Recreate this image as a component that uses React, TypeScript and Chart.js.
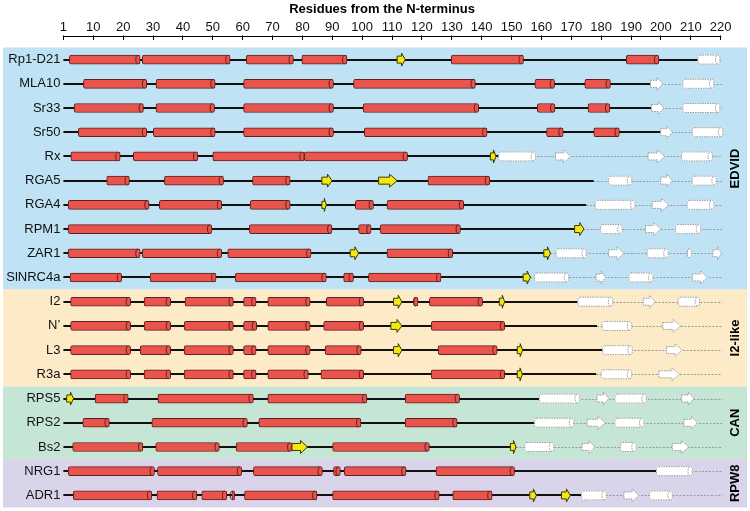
import React, { useEffect, useRef } from 'react';
import { Chart, registerables } from 'chart.js';
Chart.register(...registerables);

const proteins = ['Rp1-D21', 'MLA10', 'Sr33', 'Sr50', 'Rx', 'RGA5', 'RGA4', 'RPM1', 'ZAR1', 'SlNRC4a', 'I2', 'N\u2019', 'L3', 'R3a', 'RPS5', 'RPS2', 'Bs2', 'NRG1', 'ADR1'];

const xTickValues = [0, 10, 20, 30, 40, 50, 60, 70, 80, 90, 100, 110, 120, 130, 140, 150, 160, 170, 180, 190, 200, 210, 220];
const xTickLabels = ['1', '10', '20', '30', '40', '50', '60', '70', '80', '90', '100', '110', '120', '130', '140', '150', '160', '170', '180', '190', '200', '210', '220'];
const axisTitle = 'Residues from the N-terminus';

const groupNames = ['EDVID', 'I2-like', 'CAN', 'RPW8'];
const groupFirstRow = [0, 10, 14, 17];
const groupLastRow = [9, 13, 16, 18];

// alpha helices (solved structure)
const helices: number[][][] = [
  [[2, 25.7], [26.4, 55.8], [61.2, 77], [79.8, 94.9], [129.8, 154], [188.4, 199.3]],
  [[6.7, 27.9], [31, 50.8], [60.3, 90.4], [97.1, 137.9], [157.8, 164.4], [174.5, 183.1]],
  [[3.6, 26.8], [31, 50.6], [60.3, 90.4], [100.3, 139], [158.6, 164.5], [175.6, 182.9]],
  [[5, 27.9], [30.1, 50.8], [60.3, 90.4], [100.7, 141.8], [161.7, 167.3], [177.5, 186.1]],
  [[2.5, 19], [23.4, 45], [50, 80.6], [80.6, 115.2]],
  [[14.5, 22.1], [33.8, 53.6], [63.3, 75.9], [122, 142.7]],
  [[1.6, 28.7], [32.1, 53], [62.5, 75.9], [97.7, 103.8], [108.3, 134]],
  [[1.6, 49.7], [62.2, 89.9], [98.8, 103], [106, 132.9]],
  [[1.6, 25.7], [26.4, 53], [55, 82.9], [108.3, 130.3]],
  [[2.2, 19.5], [29, 51.1], [57.5, 88], [93.8, 97.1], [102.1, 126.4]],
  [[2.4, 22.5], [27, 35.9], [40.7, 56.9], [60.3, 64.5], [68.4, 82.6], [88, 100.5], [117.2, 118.7], [122.5, 140.3]],
  [[2.4, 22.5], [27, 35.9], [40.4, 56.9], [60.3, 64.7], [68.4, 82.6], [87.1, 100.5], [123.1, 147.7]],
  [[2.4, 22.5], [25.7, 35.9], [40.4, 56.9], [60.3, 64.5], [68.4, 82.6], [87.6, 99.7], [125.4, 145.2]],
  [[2.4, 22.5], [27, 35.9], [40.4, 56.9], [60.3, 64.5], [68.4, 82], [86.2, 100.5], [123.1, 147.7]],
  [[10.6, 21.7], [31.6, 63.6], [68.4, 101.6], [114.4, 132.6]],
  [[6.5, 15.4], [29.6, 61.6], [65.4, 99.6], [114.4, 131.8]],
  [[3.1, 26.6], [30.9, 52.2], [57.8, 76.5], [90.1, 122.5]],
  [[1.6, 30.5], [31.5, 59.7], [63.6, 86.7], [90.4, 92.7], [94, 114.7], [124.7, 151]],
  [[3.3, 29.6], [31.3, 44.7], [46.3, 54.7], [56.4, 57.3], [60.6, 84.9], [90.1, 125.8], [130.3, 143.5]],
];

// beta strands (solved structure)
const strands: number[][][] = [
  [[111.7, 114.4]],
  [],
  [],
  [],
  [[142.9, 144.8]],
  [[86.5, 89.9], [105.5, 111.7]],
  [[86.5, 88]],
  [[171.1, 174.2]],
  [[96, 98.8], [160.8, 163]],
  [[153.9, 156.3]],
  [[110.5, 113.3], [145.9, 147.7]],
  [[109.6, 113.3]],
  [[110.5, 113.3], [151.9, 153.7]],
  [[151.9, 153.6]],
  [[1.1, 3.4]],
  [],
  [[76.5, 81.7], [149.6, 151.5]],
  [],
  [[156.1, 158.3], [166.7, 169.7]],
];

const structuredEnd = [212.4, 196.5, 196.8, 199.9, 145.7, 177.5, 175, 174.2, 163, 156.3, 172.2, 178.6, 180.5, 178.3, 159.3, 157.7, 151.5, 198.5, 173.4];
const tailEnd = [220.5, 220.5, 220.5, 220.5, 220, 220.5, 220.5, 220.5, 220.2, 220.5, 220.5, 220.5, 220.5, 220.5, 220.5, 220.9, 220.5, 220.5, 220.5];

// predicted (modelled) elements
const predictedHelices: number[][][] = [
  [[212.4, 219.7]],
  [[207.3, 217.7]],
  [[207.3, 219.7]],
  [[210.5, 220.7]],
  [[145.7, 158], [206.9, 217.2]],
  [[182.5, 190.2], [210.5, 218.5]],
  [[178, 191.3], [208.8, 217.7]],
  [[179.8, 187], [204.9, 213.3]],
  [[164.9, 175], [195.4, 202.4], [208.8, 210.2]],
  [[157.7, 169.1], [189.3, 197.3]],
  [[172.2, 183.9], [205.8, 212.9]],
  [[180.3, 190.2]],
  [[180.5, 190.4]],
  [[180, 190.2]],
  [[159.3, 172.7], [184.6, 195.1]],
  [[157.7, 170.8], [184.6, 194.3]],
  [[154.4, 164.1], [186.5, 191.7]],
  [[198.5, 210.5]],
  [[173.4, 181.7], [196.2, 203.8]],
];

const predictedStrands: number[][][] = [
  [],
  [[196.5, 200.6]],
  [[196.8, 201]],
  [[199.9, 203.8]],
  [[164.7, 169.7], [195.7, 201.3]],
  [[199.9, 203.8]],
  [[197.1, 202.6]],
  [[194.8, 199.9]],
  [[182.5, 187.6], [217.4, 220.2]],
  [[178.3, 181.4], [210.5, 215.5]],
  [[194.1, 198]],
  [[200.6, 206.6]],
  [[201.8, 207.1]],
  [[199.3, 206.2]],
  [[178.6, 182.5], [206.9, 211]],
  [[175.3, 181.4], [207.7, 212.2]],
  [[173.6, 177.9], [203.8, 209.3]],
  [],
  [[187.6, 192.6]],
];

// ---- styles ----
const FONT = '"Liberation Sans", Arial, Helvetica, sans-serif';
const groupColors = ['#BFE2F5', '#FDEBC8', '#C6E6D5', '#D9D4EA'];
const helixFill = '#E9544D';
const helixStroke = '#5E201D';
const strandFill = '#F4E812';
const strandStroke = '#3d3800';
const predStroke = '#9a9a9a';

function arrowPath(ctx: CanvasRenderingContext2D, x1: number, x2: number, cy: number) {
  const w = x2 - x1;
  const hl = Math.min(Math.max(w * 0.45, 2), 7.5);
  const bh = 3.5;
  const hh = 6.5;
  const xb = x2 - hl;
  ctx.beginPath();
  ctx.moveTo(x1, cy - bh);
  ctx.lineTo(xb, cy - bh);
  ctx.lineTo(xb, cy - hh);
  ctx.lineTo(x2, cy);
  ctx.lineTo(xb, cy + hh);
  ctx.lineTo(xb, cy + bh);
  ctx.lineTo(x1, cy + bh);
  ctx.closePath();
}

function roundRectPath(ctx: CanvasRenderingContext2D, x: number, y: number, w: number, h: number, r: number) {
  const rr = Math.min(r, w / 2, h / 2);
  ctx.beginPath();
  ctx.moveTo(x + rr, y);
  ctx.lineTo(x + w - rr, y);
  ctx.arcTo(x + w, y, x + w, y + rr, rr);
  ctx.lineTo(x + w, y + h - rr);
  ctx.arcTo(x + w, y + h, x + w - rr, y + h, rr);
  ctx.lineTo(x + rr, y + h);
  ctx.arcTo(x, y + h, x, y + h - rr, rr);
  ctx.lineTo(x, y + rr);
  ctx.arcTo(x, y, x + rr, y, rr);
  ctx.closePath();
}

const diagramPlugin = {
  id: 'diagram',
  beforeDraw(chart: any) {
    const { ctx } = chart;
    const ys = chart.scales.y;
    ctx.save();
    groupNames.forEach((_, g) => {
      const top = ys.getPixelForValue(groupFirstRow[g] - 0.5);
      const bot = ys.getPixelForValue(groupLastRow[g] + 0.5);
      ctx.fillStyle = groupColors[g];
      ctx.fillRect(3, top, 744, bot - top);
    });
    ctx.restore();
  },
  beforeDatasetsDraw(chart: any) {
    const { ctx } = chart;
    const xs = chart.scales.x;
    const ys = chart.scales.y;
    ctx.save();
    proteins.forEach((_, i) => {
      const y = Math.round(ys.getPixelForValue(i));
      const x0 = xs.getPixelForValue(0);
      const x1 = xs.getPixelForValue(structuredEnd[i]);
      const x2 = xs.getPixelForValue(tailEnd[i]);
      ctx.setLineDash([2, 1.5]);
      ctx.strokeStyle = predStroke;
      ctx.lineWidth = 1;
      ctx.beginPath();
      ctx.moveTo(x1, y + 0.5);
      ctx.lineTo(x2, y + 0.5);
      ctx.stroke();
      ctx.setLineDash([]);
      ctx.strokeStyle = '#111';
      ctx.lineWidth = 2;
      ctx.beginPath();
      ctx.moveTo(x0, y);
      ctx.lineTo(x1, y);
      ctx.stroke();
    });
    ctx.restore();
  },
  afterDatasetsDraw(chart: any) {
    const { ctx } = chart;
    const xs = chart.scales.x;
    const ys = chart.scales.y;
    ctx.save();
    chart.getDatasetMeta(0).data.forEach((el: any) => {
      const p = el.getProps(['x', 'base', 'y', 'height'], true);
      const right = Math.max(p.x, p.base);
      ctx.strokeStyle = helixStroke;
      ctx.lineWidth = 1;
      ctx.beginPath();
      ctx.ellipse(right - 2.2, p.y, 2.2, p.height / 2 - 0.3, 0, Math.PI / 2, Math.PI * 1.5);
      ctx.stroke();
    });
    chart.getDatasetMeta(1).data.forEach((el: any) => {
      const p = el.getProps(['x', 'base', 'y', 'height'], true);
      const left = Math.min(p.x, p.base);
      const right = Math.max(p.x, p.base);
      ctx.strokeStyle = predStroke;
      ctx.lineWidth = 1;
      ctx.setLineDash([1.5, 1]);
      roundRectPath(ctx, left, p.y - p.height / 2, right - left, p.height, 2);
      ctx.stroke();
      ctx.beginPath();
      ctx.ellipse(right - 2.2, p.y, 2.2, p.height / 2 - 0.3, 0, Math.PI / 2, Math.PI * 1.5);
      ctx.stroke();
      ctx.setLineDash([]);
    });
    proteins.forEach((_, i) => {
      const y = ys.getPixelForValue(i);
      strands[i].forEach(([s, e]) => {
        arrowPath(ctx, xs.getPixelForValue(s), xs.getPixelForValue(e), y);
        ctx.fillStyle = strandFill;
        ctx.fill();
        ctx.strokeStyle = strandStroke;
        ctx.lineWidth = 1;
        ctx.setLineDash([]);
        ctx.stroke();
      });
      predictedStrands[i].forEach(([s, e]) => {
        arrowPath(ctx, xs.getPixelForValue(s), xs.getPixelForValue(e), y);
        ctx.fillStyle = '#ffffff';
        ctx.fill();
        ctx.strokeStyle = predStroke;
        ctx.lineWidth = 1;
        ctx.setLineDash([1.5, 1]);
        ctx.stroke();
        ctx.setLineDash([]);
      });
    });
    ctx.restore();
  },
  afterDraw(chart: any) {
    const { ctx, chartArea } = chart;
    const xs = chart.scales.x;
    const ys = chart.scales.y;
    ctx.save();
    const ay = Math.round(chartArea.top - 4) + 0.5;
    ctx.strokeStyle = '#000';
    ctx.lineWidth = 1;
    ctx.beginPath();
    ctx.moveTo(xs.getPixelForValue(0) - 0.5, ay);
    ctx.lineTo(xs.getPixelForValue(220) + 0.5, ay);
    ctx.stroke();
    ctx.fillStyle = '#000';
    ctx.font = `bold 13px ${FONT}`;
    ctx.textAlign = 'center';
    ctx.textBaseline = 'middle';
    ctx.fillText(axisTitle, (chartArea.left + chartArea.right) / 2 - 10, 9);
    groupNames.forEach((name, g) => {
      const top = ys.getPixelForValue(groupFirstRow[g] - 0.5);
      const bot = ys.getPixelForValue(groupLastRow[g] + 0.5);
      ctx.save();
      ctx.translate(735, (top + bot) / 2);
      ctx.rotate(-Math.PI / 2);
      ctx.fillText(name, 0, 0);
      ctx.restore();
    });
    ctx.restore();
  },
};

export default function App() {
  const ref = useRef<HTMLCanvasElement | null>(null);
  useEffect(() => {
    if (!ref.current) return;
    const helixData = proteins.flatMap((_, i) => helices[i].map((h) => ({ x: h, y: i })));
    const predData = proteins.flatMap((_, i) => predictedHelices[i].map((h) => ({ x: h, y: i })));
    const chart = new Chart(ref.current, {
      type: 'bar',
      data: {
        datasets: [
          {
            label: 'Helix',
            data: helixData as any,
            backgroundColor: helixFill,
            borderColor: helixStroke,
            borderWidth: 1,
            borderRadius: 2,
            borderSkipped: false,
            barThickness: 9,
            grouped: false,
            clip: false as any,
          },
          {
            label: 'Predicted helix',
            data: predData as any,
            backgroundColor: '#ffffff',
            borderWidth: 0,
            borderRadius: 2,
            borderSkipped: false,
            barThickness: 9,
            grouped: false,
            clip: false as any,
          },
        ],
      },
      options: {
        indexAxis: 'y',
        responsive: false,
        animation: false,
        devicePixelRatio: 1,
        events: [],
        layout: { padding: { left: 0, top: 0, right: 29.3, bottom: 3.5 } },
        plugins: { legend: { display: false }, tooltip: { enabled: false }, title: { display: false } },
        scales: {
          x: {
            type: 'linear',
            position: 'top',
            min: 0,
            max: 220,
            offset: false,
            afterBuildTicks: (s: any) => {
              s.ticks = xTickValues.map((v) => ({ value: v }));
            },
            afterFit: (s: any) => {
              s.height = 39.5;
            },
            ticks: {
              autoSkip: false,
              maxRotation: 0,
              padding: 0,
              color: '#111',
              font: { family: FONT, size: 13 },
              callback: (_v: any, i: number) => xTickLabels[i],
            },
            grid: { drawOnChartArea: false, drawTicks: true, tickLength: 4, color: '#000', lineWidth: 1 },
            border: { display: false },
          },
          y: {
            type: 'linear',
            reverse: true,
            min: -0.83,
            max: 18.5,
            offset: false,
            afterBuildTicks: (s: any) => {
              s.ticks = proteins.map((_, i) => ({ value: i }));
            },
            afterFit: (s: any) => {
              s.width = 63.4;
              s.paddingTop = 0;
              s.paddingBottom = 0;
            },
            ticks: {
              autoSkip: false,
              padding: 3,
              color: '#111',
              font: { family: FONT, size: 13 },
              callback: (v: any) => proteins[v as number] ?? '',
            },
            grid: { display: false, drawTicks: false },
            border: { display: false },
          },
        },
      } as any,
      plugins: [diagramPlugin],
    });
    return () => chart.destroy();
  }, []);
  return (
    <div style={{ position: 'fixed', left: 0, top: 0, width: 750, height: 511, background: '#fff' }}>
      <canvas ref={ref} width={750} height={511} />
    </div>
  );
}
